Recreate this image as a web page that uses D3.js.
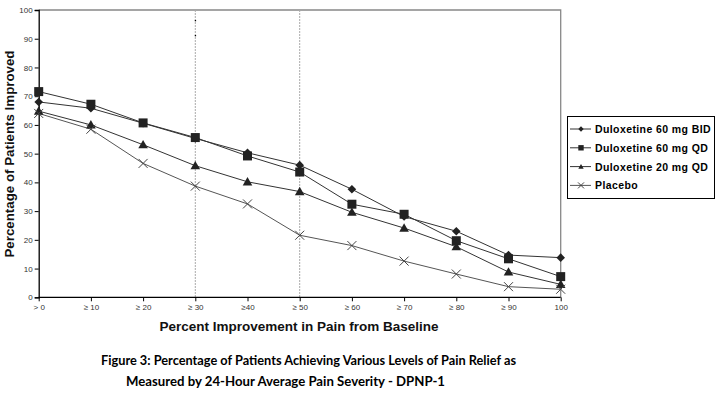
<!DOCTYPE html>
<html>
<head>
<meta charset="utf-8">
<script src="https://cdnjs.cloudflare.com/ajax/libs/d3/7.8.5/d3.min.js"></script>
<style>
body { margin: 0; background: #fff; }
svg { display: block; }
</style>
</head>
<body>
<svg></svg>
<script>
var categories = ["> 0", "\u2265 10", "\u2265 20", "\u2265 30", "\u226540", "\u2265 50", "\u2265 60", "\u2265 70", "\u2265 80", "\u2265 90", "100"]
var bid = [68.0, 65.8, 60.6, 55.3, 50.3, 46.0, 37.6, 28.1, 23.0, 14.7, 13.8]
var qd60 = [71.6, 67.2, 60.7, 55.6, 49.2, 43.6, 32.4, 28.9, 19.7, 13.4, 7.2]
var qd20 = [64.8, 60.0, 53.1, 45.8, 40.2, 36.8, 29.6, 24.1, 17.6, 8.8, 4.5]
var placebo = [64.0, 58.5, 46.6, 38.7, 32.5, 21.6, 18.0, 12.6, 8.1, 3.7, 2.8]
var seriesNames = ["Duloxetine 60 mg BID", "Duloxetine 60 mg QD", "Duloxetine 20 mg QD", "Placebo"]
var yTicks = [0, 10, 20, 30, 40, 50, 60, 70, 80, 90, 100]
var refLines = ["\u2265 30", "\u2265 50"]

var screen = {width: 722, height: 398}
var svg = d3.select("svg").attr("width", screen.width).attr("height", screen.height)

var xScale = d3.scalePoint().domain(categories).range([38.7, 560.7])
var yScale = d3.scaleLinear().domain([0, 100]).range([297.3, 10])

var series = [
    {name: seriesNames[0], values: bid, shape: "diamond", r: 4.3, color: "#333"},
    {name: seriesNames[1], values: qd60, shape: "square", r: 4.5, color: "#333"},
    {name: seriesNames[2], values: qd20, shape: "triangle", r: 4.8, color: "#333"},
    {name: seriesNames[3], values: placebo, shape: "x", r: 4.5, color: "#555"}
]

// plot frame (top and right, grey)
svg.append("path")
    .attr("d", "M" + xScale.range()[0] + "," + yScale(100) + "H" + xScale.range()[1] + "V" + yScale(0))
    .attr("fill", "none").attr("stroke", "#888").attr("stroke-width", 1.3)

// dotted reference lines
svg.selectAll(".ref").data(refLines).enter().append("line")
    .attr("x1", function(d) { return xScale(d) }).attr("x2", function(d) { return xScale(d) })
    .attr("y1", yScale(100)).attr("y2", yScale(0))
    .attr("stroke", "#aaa").attr("stroke-width", 1).attr("stroke-dasharray", "2,1")
svg.append("rect").attr("x", xScale("\u2265 30") - 0.5).attr("y", 20).attr("width", 1.3).attr("height", 1.3).attr("fill", "#000")
svg.append("rect").attr("x", xScale("\u2265 30") - 0.5).attr("y", 35).attr("width", 1.3).attr("height", 1.3).attr("fill", "#000")

// axes
var yAxis = d3.axisLeft(yScale).tickValues(yTicks).tickSize(4).tickPadding(2)
var gy = svg.append("g").attr("transform", "translate(" + xScale.range()[0] + ",0)").call(yAxis)
gy.select(".domain").attr("stroke", "#000").attr("stroke-width", 1.3)
gy.selectAll(".tick line").attr("stroke", "#000")
gy.selectAll("text").attr("font-family", "Liberation Sans, Arial, sans-serif").attr("font-size", 8).attr("fill", "#333")

var xAxis = d3.axisBottom(xScale).tickSize(4).tickPadding(3)
var gx = svg.append("g").attr("transform", "translate(0," + yScale(0) + ")").call(xAxis)
gx.select(".domain").attr("stroke", "#000").attr("stroke-width", 1.3).attr("d", "M" + xScale.range()[0] + ",0H" + xScale.range()[1])
gx.selectAll(".tick line").attr("stroke", "#000")
gx.selectAll("text").attr("font-family", "Liberation Sans, Arial, sans-serif").attr("font-size", 8).attr("fill", "#333")

// lines and markers
var line = d3.line()
    .x(function(d, i) { return xScale(categories[i]) })
    .y(function(d) { return yScale(d) })

var markerPath = function(shape, x, y, r) {
    if (shape === "diamond") return "M" + x + "," + (y - r) + "L" + (x + r) + "," + y + "L" + x + "," + (y + r) + "L" + (x - r) + "," + y + "Z"
    if (shape === "square") return "M" + (x - r) + "," + (y - r) + "h" + (2 * r) + "v" + (2 * r) + "h" + (-2 * r) + "Z"
    if (shape === "triangle") return "M" + x + "," + (y - r) + "L" + (x + r) + "," + (y + r * 0.75) + "L" + (x - r) + "," + (y + r * 0.75) + "Z"
    return "M" + (x - r) + "," + (y - r) + "L" + (x + r) + "," + (y + r) + "M" + (x - r) + "," + (y + r) + "L" + (x + r) + "," + (y - r)
}

var drawMarker = function(g, shape, x, y, r) {
    var p = g.append("path").attr("d", markerPath(shape, x, y, r))
    if (shape === "x") p.attr("stroke", "#444").attr("stroke-width", 1).attr("fill", "none")
    else p.attr("fill", "#222")
}

series.forEach(function(s) {
    svg.append("path").attr("d", line(s.values))
        .attr("fill", "none").attr("stroke", s.color).attr("stroke-width", 1)
})
series.forEach(function(s) {
    var g = svg.append("g")
    s.values.forEach(function(v, i) {
        drawMarker(g, s.shape, xScale(categories[i]), yScale(v), s.r)
    })
})

// legend
var legend = svg.append("g")
legend.append("rect").attr("x", 567.5).attr("y", 116.5).attr("width", 147).attr("height", 82)
    .attr("fill", "#fff").attr("stroke", "#000").attr("stroke-width", 1)
series.forEach(function(s, i) {
    var y = 129 + i * 18.8
    legend.append("line").attr("x1", 570).attr("x2", 591).attr("y1", y).attr("y2", y)
        .attr("stroke", s.color).attr("stroke-width", 1)
    drawMarker(legend, s.shape, 581, y, s.shape === "x" ? 3 : 2.7)
    legend.append("text").attr("x", 595).attr("y", y + 4)
        .attr("font-family", "Liberation Sans, Arial, sans-serif").attr("font-weight", "bold")
        .attr("font-size", 10.5).attr("letter-spacing", 0.4).attr("fill", "#000")
        .text(s.name)
})

// axis titles
svg.append("text").attr("x", 299).attr("y", 331).attr("text-anchor", "middle")
    .attr("font-family", "Liberation Sans, Arial, sans-serif").attr("font-weight", "bold").attr("font-size", 13.5)
    .attr("fill", "#111").text("Percent Improvement in Pain from Baseline")
svg.append("text").attr("transform", "translate(13.5,154) rotate(-90)").attr("text-anchor", "middle")
    .attr("font-family", "Liberation Sans, Arial, sans-serif").attr("font-weight", "bold").attr("font-size", 13.5)
    .attr("textLength", 207).attr("lengthAdjust", "spacingAndGlyphs")
    .attr("fill", "#111").text("Percentage of Patients Improved")

// caption
var caption = ["Figure 3: Percentage of Patients Achieving Various Levels of Pain Relief as", "Measured by 24-Hour Average Pain Severity - DPNP-1"]
var captionWidth = [415, 319]
caption.forEach(function(t, i) {
    svg.append("text").attr("x", i === 0 ? 308.5 : 285.5).attr("y", 365 + i * 21).attr("text-anchor", "middle")
        .attr("font-family", "Lato, Open Sans, sans-serif").attr("font-weight", "bold").attr("font-size", 13.5)
        .attr("textLength", captionWidth[i]).attr("lengthAdjust", "spacingAndGlyphs")
        .attr("fill", "#000").text(t)
})
</script>
</body>
</html>
